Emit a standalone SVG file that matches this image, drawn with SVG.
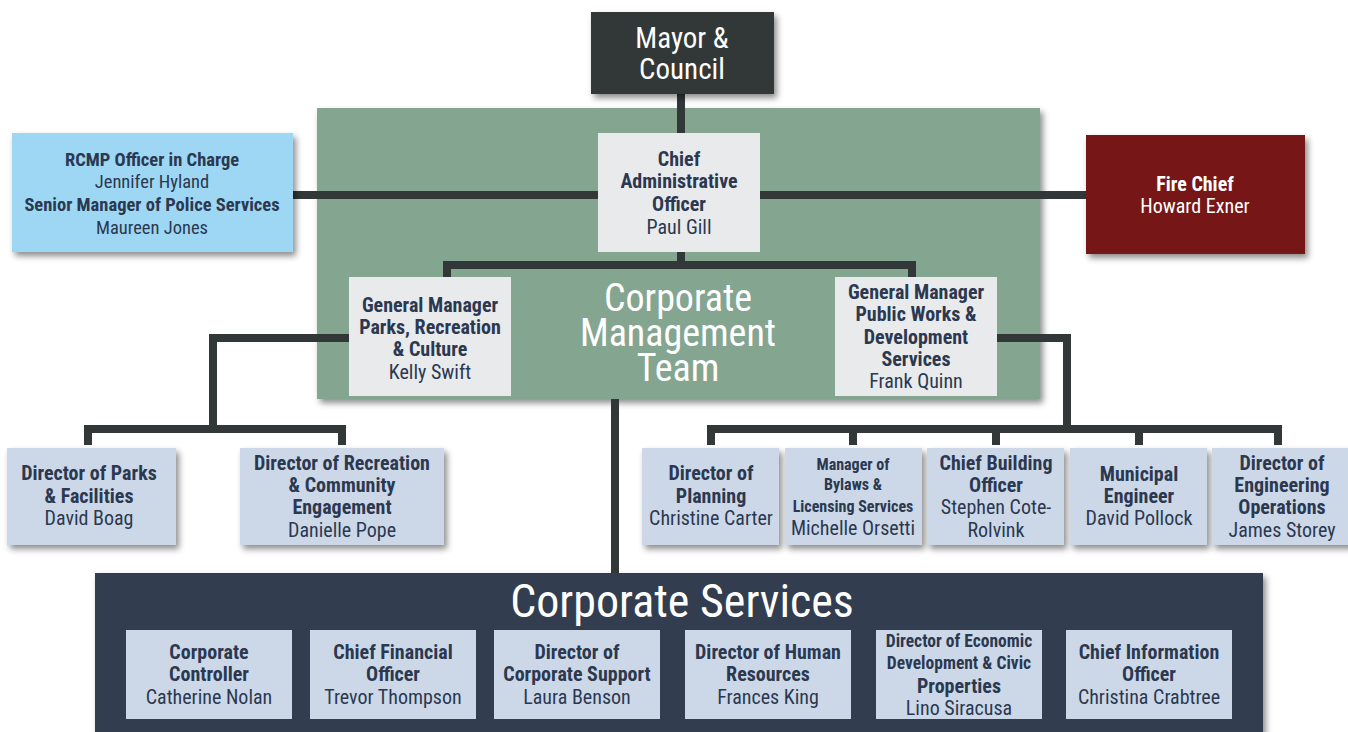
<svg xmlns="http://www.w3.org/2000/svg" width="1348" height="732" viewBox="0 0 1348 732">
<defs>
<filter id="sh" x="-10%" y="-10%" width="130%" height="140%">
<feDropShadow dx="3" dy="4" stdDeviation="3" flood-color="#000" flood-opacity="0.45"/>
</filter>
<style>
text{font-family:"Liberation Sans Narrow","Roboto Condensed","DejaVu Sans Condensed","Liberation Sans",sans-serif;text-anchor:middle;font-size:20px;fill:#2b3850}
.b{font-weight:bold}
.w{fill:#ffffff}
.sm{font-size:16px}
.rc{font-size:18.5px}
.lb{fill:#ccd8e8}
.gr{fill:#e8eaec}
.cn{fill:none;stroke:#323838;stroke-width:8}
</style>
</defs>
<rect width="1348" height="732" fill="#ffffff"/>

<g id="panel-cmt">
<rect x="317" y="108" width="723" height="291" fill="#84a590" filter="url(#sh)"/>
<text class="w" style="font-size:38px" x="678" y="311">Corporate</text>
<text class="w" style="font-size:38px" x="678" y="346">Management</text>
<text class="w" style="font-size:38px" x="678" y="381">Team</text>
</g>

<g id="panel-cs">
<rect x="95" y="573" width="1168" height="170" fill="#323d50" filter="url(#sh)"/>
<text class="w" style="font-size:46px" x="682" y="617">Corporate Services</text>
</g>

<g id="connectors">
<path class="cn" d="M681 94V133"/>
<path class="cn" d="M293 195H598"/>
<path class="cn" d="M760 195H1086"/>
<path class="cn" d="M681 252V265M447 277V265H912V277"/>
<path class="cn" d="M349 338H213V429M88 445V429H342V445"/>
<path class="cn" d="M997 338H1067V429M711 445V429H1278V445M853 429V445M996 429V445M1139 429V445"/>
<path class="cn" d="M615 399V573"/>
</g>

<g id="mayor">
<rect x="591" y="12" width="183" height="82" fill="#323838" filter="url(#sh)"/>
<text class="w" style="font-size:29px" x="682" y="48">Mayor &amp;</text>
<text class="w" style="font-size:29px" x="682" y="79">Council</text>
</g>

<g id="cao">
<rect class="gr" x="598" y="133" width="162" height="119"/>
<text class="b" x="679" y="166">Chief</text>
<text class="b" x="679" y="188">Administrative</text>
<text class="b" x="679" y="211">Officer</text>
<text x="679" y="234">Paul Gill</text>
</g>

<g id="rcmp">
<rect x="12" y="133" width="281" height="119" fill="#9dd7f3" filter="url(#sh)"/>
<text class="b rc" x="152" y="166">RCMP Officer in Charge</text>
<text class="rc" x="152" y="188">Jennifer Hyland</text>
<text class="b rc" x="152" y="211">Senior Manager of Police Services</text>
<text class="rc" x="152" y="234">Maureen Jones</text>
</g>

<g id="fire">
<rect x="1086" y="135" width="219" height="119" fill="#761212" filter="url(#sh)"/>
<text class="b w" x="1195" y="191">Fire Chief</text>
<text class="w" x="1195" y="213">Howard Exner</text>
</g>

<g id="gm-parks">
<rect class="gr" x="349" y="277" width="162" height="119"/>
<text class="b" x="430" y="312">General Manager</text>
<text class="b" x="430" y="334">Parks, Recreation</text>
<text class="b" x="430" y="356">&amp; Culture</text>
<text x="430" y="379">Kelly Swift</text>
</g>

<g id="gm-pw">
<rect class="gr" x="835" y="277" width="162" height="119"/>
<text class="b" x="916" y="299">General Manager</text>
<text class="b" x="916" y="321">Public Works &amp;</text>
<text class="b" x="916" y="344">Development</text>
<text class="b" x="916" y="366">Services</text>
<text x="916" y="388">Frank Quinn</text>
</g>

<g id="dir-parks">
<rect class="lb" x="7" y="448" width="169" height="97" filter="url(#sh)"/>
<text class="b" x="89" y="480">Director of Parks</text>
<text class="b" x="89" y="503">&amp; Facilities</text>
<text x="89" y="525">David Boag</text>
</g>

<g id="dir-rec">
<rect class="lb" x="240" y="448" width="204" height="97" filter="url(#sh)"/>
<text class="b" x="342" y="470">Director of Recreation</text>
<text class="b" x="342" y="492">&amp; Community</text>
<text class="b" x="342" y="514">Engagement</text>
<text x="342" y="537">Danielle Pope</text>
</g>

<g id="dir-planning">
<rect class="lb" x="642" y="448" width="137" height="97" filter="url(#sh)"/>
<text class="b" x="711" y="480">Director of</text>
<text class="b" x="711" y="503">Planning</text>
<text x="711" y="525">Christine Carter</text>
</g>

<g id="mgr-bylaws">
<rect class="lb" x="785" y="448" width="137" height="97" filter="url(#sh)"/>
<text class="b sm" x="853" y="470">Manager of</text>
<text class="b sm" x="853" y="490">Bylaws &amp;</text>
<text class="b sm" x="853" y="512">Licensing Services</text>
<text x="853" y="535">Michelle Orsetti</text>
</g>

<g id="cbo">
<rect class="lb" x="927" y="448" width="137" height="97" filter="url(#sh)"/>
<text class="b" x="996" y="470">Chief Building</text>
<text class="b" x="996" y="492">Officer</text>
<text x="996" y="514">Stephen Cote-</text>
<text x="996" y="537">Rolvink</text>
</g>

<g id="mun-eng">
<rect class="lb" x="1070" y="448" width="137" height="97" filter="url(#sh)"/>
<text class="b" x="1139" y="481">Municipal</text>
<text class="b" x="1139" y="503">Engineer</text>
<text x="1139" y="525">David Pollock</text>
</g>

<g id="dir-eng-ops">
<rect class="lb" x="1212" y="448" width="140" height="97" filter="url(#sh)"/>
<text class="b" x="1282" y="470">Director of</text>
<text class="b" x="1282" y="492">Engineering</text>
<text class="b" x="1282" y="514">Operations</text>
<text x="1282" y="537">James Storey</text>
</g>

<g id="corp-controller">
<rect class="lb" x="126" y="630" width="166" height="89"/>
<text class="b" x="209" y="659">Corporate</text>
<text class="b" x="209" y="681">Controller</text>
<text x="209" y="704">Catherine Nolan</text>
</g>

<g id="cfo">
<rect class="lb" x="310" y="630" width="166" height="89"/>
<text class="b" x="393" y="659">Chief Financial</text>
<text class="b" x="393" y="681">Officer</text>
<text x="393" y="704">Trevor Thompson</text>
</g>

<g id="dir-corp-support">
<rect class="lb" x="494" y="630" width="166" height="89"/>
<text class="b" x="577" y="659">Director of</text>
<text class="b" x="577" y="681">Corporate Support</text>
<text x="577" y="704">Laura Benson</text>
</g>

<g id="dir-hr">
<rect class="lb" x="685" y="630" width="166" height="89"/>
<text class="b" x="768" y="659">Director of Human</text>
<text class="b" x="768" y="681">Resources</text>
<text x="768" y="704">Frances King</text>
</g>

<g id="dir-econ">
<rect class="lb" x="876" y="630" width="166" height="89"/>
<text class="b" style="font-size:17.5px" x="959" y="647">Director of Economic</text>
<text class="b" style="font-size:17.5px" x="959" y="669">Development &amp; Civic</text>
<text class="b" x="959" y="693">Properties</text>
<text x="959" y="715">Lino Siracusa</text>
</g>

<g id="cio">
<rect class="lb" x="1066" y="630" width="166" height="89"/>
<text class="b" x="1149" y="659">Chief Information</text>
<text class="b" x="1149" y="681">Officer</text>
<text x="1149" y="704">Christina Crabtree</text>
</g>
</svg>
